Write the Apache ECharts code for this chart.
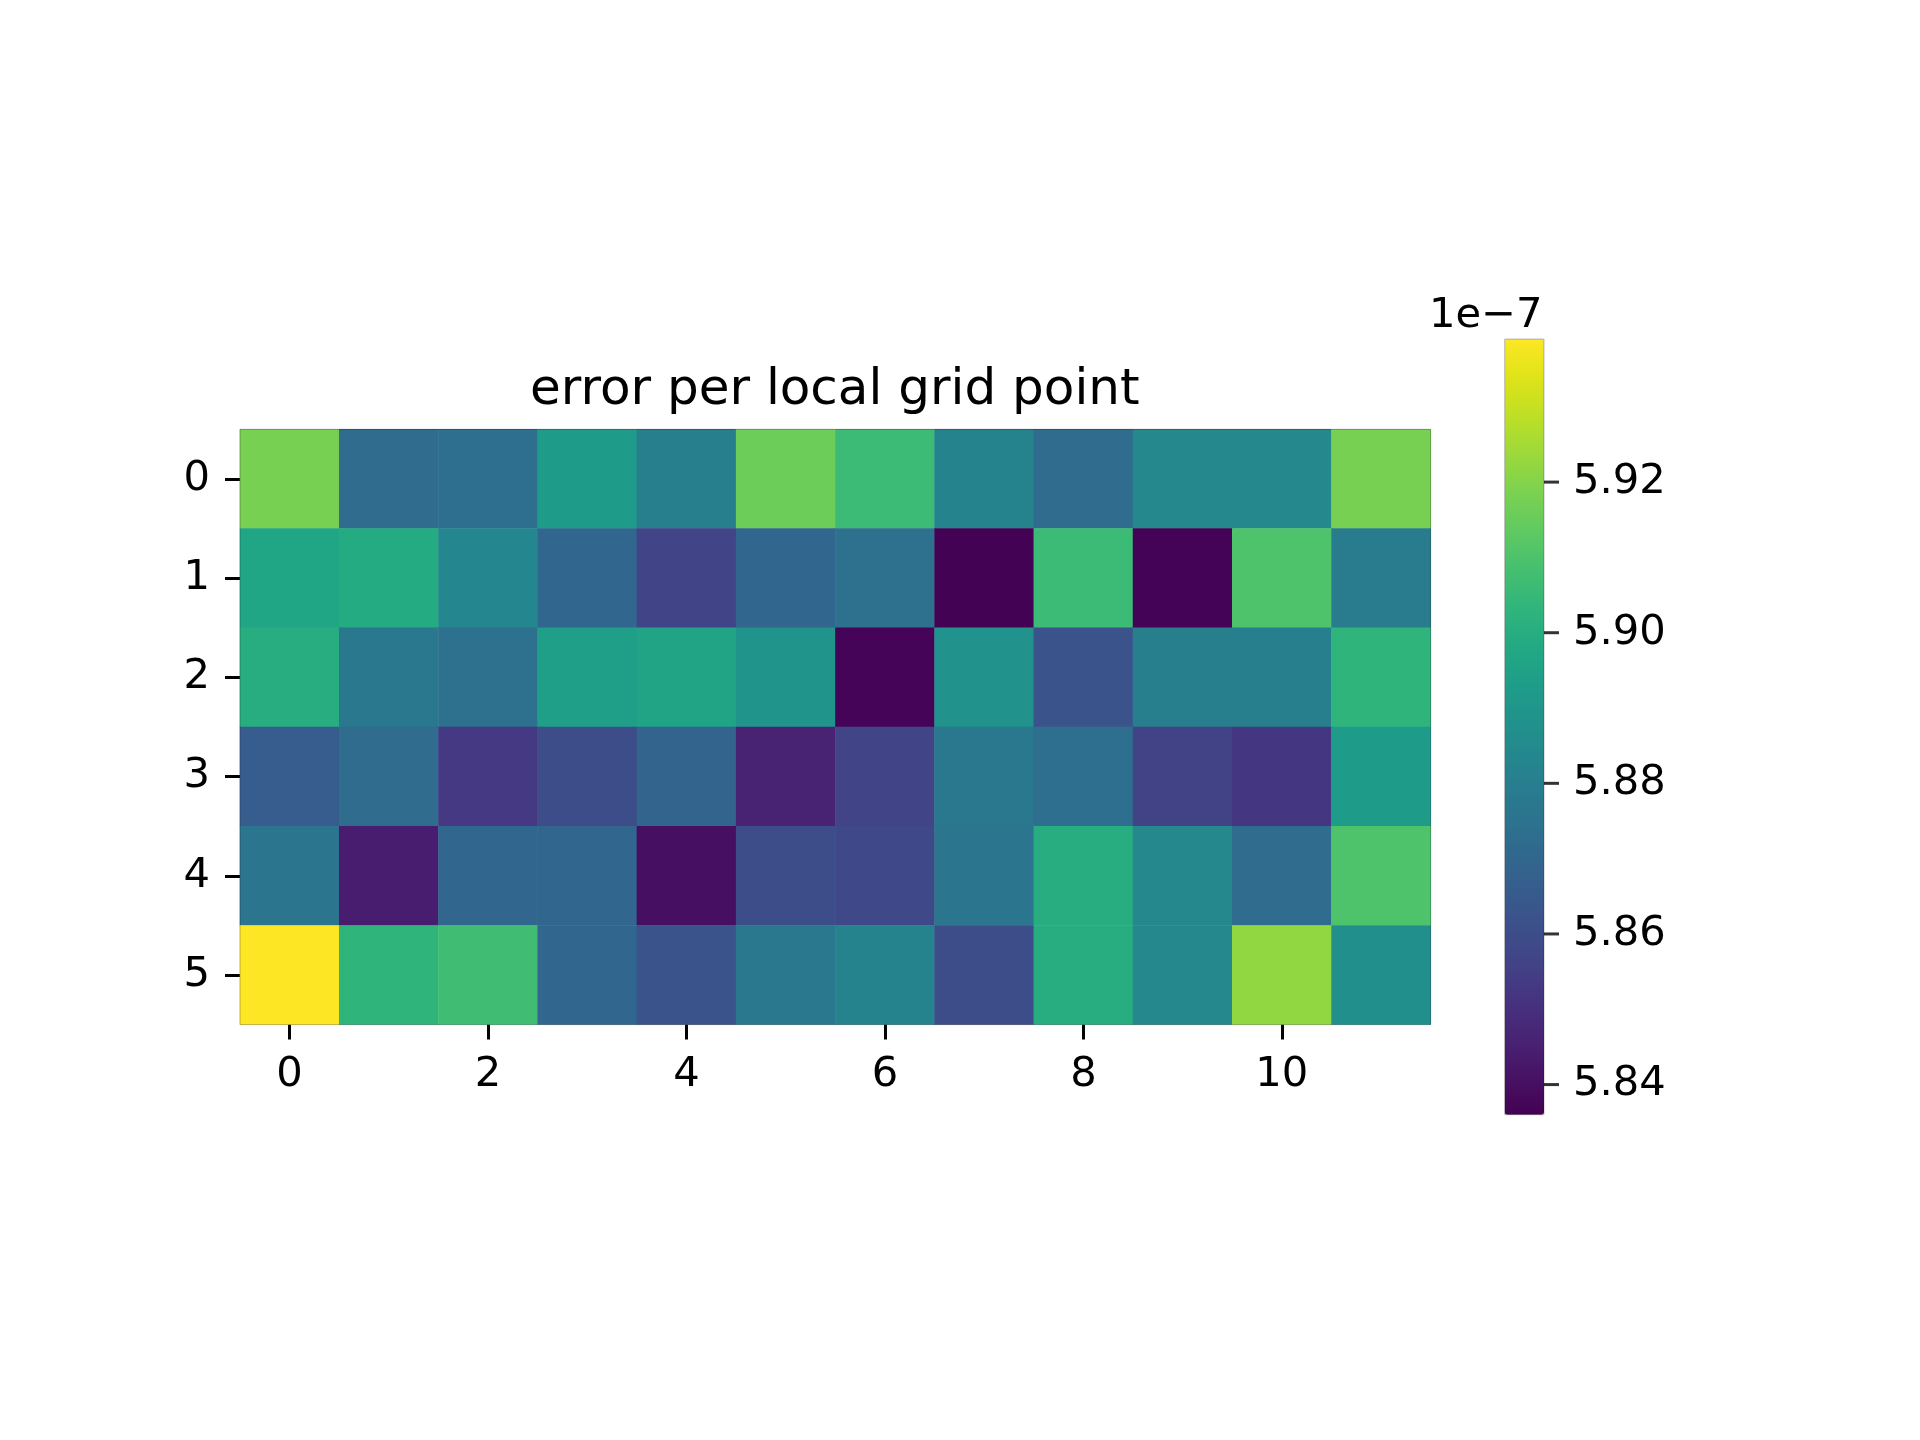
<!DOCTYPE html>
<html>
<head>
<meta charset="utf-8">
<script src="https://cdn.jsdelivr.net/npm/echarts@6/dist/echarts.min.js"></script>
<style>
html,body{margin:0;padding:0;background:#fff;}
#chart{width:1920px;height:1440px;}
</style>
</head>
<body>
<div id="chart"></div>
<script>
// ---- data (values in units of 1e-7) ----
const xCategories = ['0','1','2','3','4','5','6','7','8','9','10','11'];
const yCategories = ['0','1','2','3','4','5'];
const errRow0 = [5.918, 5.872, 5.873, 5.892, 5.880, 5.916, 5.906, 5.882, 5.872, 5.884, 5.884, 5.918];
const errRow1 = [5.897, 5.899, 5.883, 5.870, 5.857, 5.870, 5.874, 5.8362, 5.906, 5.8365, 5.910, 5.879];
const errRow2 = [5.900, 5.877, 5.874, 5.894, 5.896, 5.889, 5.837, 5.888, 5.862, 5.880, 5.880, 5.903];
const errRow3 = [5.866, 5.872, 5.853, 5.860, 5.869, 5.846, 5.857, 5.877, 5.873, 5.856, 5.852, 5.892];
const errRow4 = [5.876, 5.844, 5.870, 5.870, 5.840, 5.860, 5.858, 5.876, 5.900, 5.884, 5.872, 5.910];
const errRow5 = [5.939, 5.903, 5.907, 5.870, 5.862, 5.877, 5.882, 5.860, 5.900, 5.884, 5.922, 5.887];
const colorMin = 5.836;
const colorMax = 5.939;
const colorbarTicks = [5.84, 5.86, 5.88, 5.90, 5.92];
const titleText = 'error per local grid point';
const colorbarUnit = '1e\u22127';

// viridis colormap
const viridis = ['#440154','#471365','#482475','#463480','#414487','#3b528b','#355f8d','#2f6c8e','#2a788e','#25848e','#21918c','#1e9c89','#22a884','#2fb47c','#44bf70','#5ec962','#7ad151','#9bd93c','#bddf26','#dfe318','#fde725'];

const rows = [errRow0, errRow1, errRow2, errRow3, errRow4, errRow5];
const heatData = [];
rows.forEach((r, yi) => r.forEach((v, xi) => heatData.push([xi, yi, v])));
const tickMarks = colorbarTicks.map(v => [1, v]);

const FONT = 'DejaVu Sans';
const FS = 41.67;

const chart = echarts.init(document.getElementById('chart'), null, {renderer: 'canvas'});
chart.setOption({
  backgroundColor: '#ffffff',
  animation: false,
  title: [
    {
      text: titleText,
      left: 530,
      top: 366,
      padding: 0,
      textStyle: {fontFamily: FONT, fontSize: 50, fontWeight: 'normal', color: '#000'}
    },
    {
      text: colorbarUnit,
      left: 1429,
      top: 295,
      padding: 0,
      textStyle: {fontFamily: FONT, fontSize: FS, fontWeight: 'normal', color: '#000'}
    }
  ],
  grid: [
    {left: 240, top: 429.3, width: 1190.7, height: 595.3, show: true, borderColor: 'rgba(0,0,0,0.25)', borderWidth: 1, backgroundColor: 'transparent', z: 10},
    {left: 1504.7, top: 339, width: 39.3, height: 775.7, show: true, borderColor: 'rgba(0,0,0,0.25)', borderWidth: 1, backgroundColor: 'transparent', z: 10}
  ],
  xAxis: [
    {
      type: 'category', gridIndex: 0, data: xCategories,
      axisLine: {show: false},
      axisTick: {show: true, alignWithLabel: true, interval: 1, length: 15, lineStyle: {color: '#000', width: 3}},
      axisLabel: {interval: 1, margin: 30, fontFamily: FONT, fontSize: FS, color: '#000'},
      splitLine: {show: false}
    },
    {
      type: 'value', gridIndex: 1, min: 0, max: 1, show: false
    }
  ],
  yAxis: [
    {
      type: 'category', gridIndex: 0, data: yCategories, inverse: true,
      axisLine: {show: false},
      axisTick: {show: true, alignWithLabel: true, length: 15, lineStyle: {color: '#000', width: 3}},
      axisLabel: {margin: 30, fontFamily: FONT, fontSize: FS, color: '#000'},
      splitLine: {show: false}
    },
    {
      type: 'value', gridIndex: 1, min: colorMin, max: colorMax, position: 'right',
      axisLine: {show: false},
      axisTick: {show: false},
      axisLabel: {margin: 29, customValues: colorbarTicks, fontFamily: FONT, fontSize: FS, color: '#000',
        formatter: v => Number(v).toFixed(2)},
      splitLine: {show: false}
    }
  ],
  visualMap: {
    type: 'continuous',
    min: colorMin, max: colorMax,
    seriesIndex: 0,
    calculable: false,
    hoverLink: false,
    orient: 'vertical',
    left: 1504.7, top: 339,
    itemWidth: 39.3, itemHeight: 775.7,
    padding: 0,
    text: null,
    showLabel: false,
    inRange: {color: viridis}
  },
  series: [
    {
      type: 'heatmap', xAxisIndex: 0, yAxisIndex: 0,
      data: heatData,
      itemStyle: {borderWidth: 0},
      emphasis: {disabled: true}
    },
    {
      type: 'scatter', xAxisIndex: 1, yAxisIndex: 1, data: tickMarks, silent: true, clip: false,
      symbol: 'rect', symbolSize: [15, 3], symbolOffset: [7.5, 0],
      itemStyle: {color: '#000'}, z: 20
    }
  ]
});
</script>
</body>
</html>
